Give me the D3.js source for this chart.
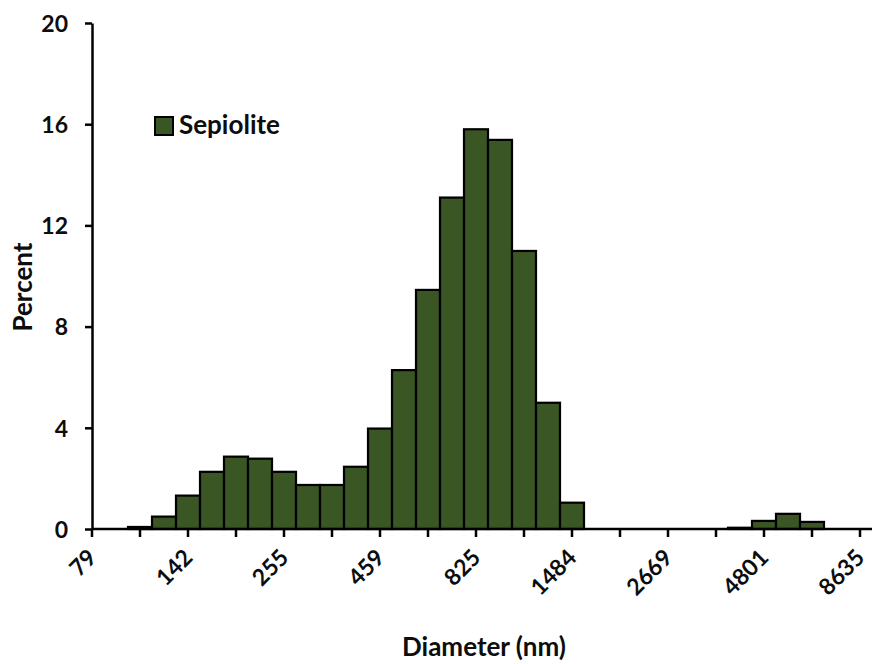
<!DOCTYPE html>
<html>
<head>
<meta charset="utf-8">
<script src="https://cdn.jsdelivr.net/npm/d3@7.9.0/dist/d3.min.js"></script>
<style>
  body { margin: 0; background: #fff; }
  svg text { font-family: Lato, 'Open Sans', sans-serif; font-weight: bold; fill: #0d0d0d; }
</style>
</head>
<body>
<div id="chart"></div>
<script>
// diameter bins (nm), one per bar
const diameters = ['79', '92', '106', '123', '142', '165', '191', '221', '255', '296', '342', '397',
  '459', '532', '616', '713', '825', '956', '1107', '1282', '1484', '1719', '1990', '2305',
  '2669', '3091', '3579', '4145', '4801', '5560', '6439', '7457', '8635'];
// share of particles in each bin (%)
const percent = [0, 0, 0.08, 0.49, 1.32, 2.26, 2.86, 2.78, 2.26, 1.74, 1.74, 2.46,
  3.97, 6.28, 9.45, 13.1, 15.8, 15.38, 10.99, 4.99, 1.04, 0, 0, 0,
  0, 0, 0, 0.05, 0.32, 0.6, 0.28, 0, 0];
const xLabels = ['79', '142', '255', '459', '825', '1484', '2669', '4801', '8635'];
const yTicks = [0, 4, 8, 12, 16, 20];
const seriesName = 'Sepiolite';

const width = 874;
const height = 664;
const barColor = '#3b5625';

const svg = d3.select('#chart')
  .append('svg')
  .attr('width', width)
  .attr('height', height);

const x = d3.scaleBand()
  .domain(diameters)
  .range([80, 872])
  .padding(0);

const y = d3.scaleLinear()
  .domain([0, 20])
  .range([529, 23]);

const axisX = x(diameters[0]) + x.bandwidth() / 2;

// bars
svg.append('g')
  .selectAll('rect')
  .data(diameters.map((d, i) => ({ d, v: percent[i] })).filter((b) => b.v > 0))
  .join('rect')
  .attr('x', (b) => x(b.d))
  .attr('y', (b) => y(b.v))
  .attr('width', x.bandwidth())
  .attr('height', (b) => y(0) - y(b.v))
  .attr('fill', barColor)
  .attr('stroke', '#000')
  .attr('stroke-width', 2.2);

// x axis
const xAxis = d3.axisBottom(x)
  .tickValues(diameters.filter((d, i) => i % 2 === 0))
  .tickSize(8)
  .tickFormat((d) => (xLabels.includes(d) ? d : ''));

const gx = svg.append('g')
  .attr('transform', `translate(0, ${y(0)})`)
  .call(xAxis);
gx.select('.domain').remove();
gx.selectAll('.tick line').attr('stroke', '#000').attr('stroke-width', 2.5);
gx.selectAll('.tick text')
  .attr('font-size', 23)
  .attr('text-anchor', 'end')
  .attr('y', 0)
  .attr('dy', 0)
  .attr('transform', 'translate(6, 30) rotate(-45)');

svg.append('line')
  .attr('x1', axisX)
  .attr('x2', 872)
  .attr('y1', y(0))
  .attr('y2', y(0))
  .attr('stroke', '#000')
  .attr('stroke-width', 2.5);

// y axis
const gy = svg.append('g')
  .attr('transform', `translate(${axisX}, 0)`)
  .call(d3.axisLeft(y).tickValues(yTicks).tickSize(7).tickSizeOuter(0).tickPadding(17));
gy.select('.domain').attr('stroke', '#000').attr('stroke-width', 2.5);
gy.selectAll('.tick line').attr('stroke', '#000').attr('stroke-width', 2.5);
gy.selectAll('.tick text').attr('font-size', 23).attr('dy', '0.36em');

// axis titles
svg.append('text')
  .attr('x', 484)
  .attr('y', 656)
  .attr('text-anchor', 'middle')
  .attr('font-size', 26)
  .text('Diameter (nm)');

svg.append('text')
  .attr('transform', 'translate(32, 287) rotate(-90)')
  .attr('text-anchor', 'middle')
  .attr('font-size', 26)
  .text('Percent');

// legend
const legend = svg.append('g').attr('transform', 'translate(155, 117)');
legend.append('rect')
  .attr('width', 18)
  .attr('height', 18)
  .attr('fill', barColor)
  .attr('stroke', '#000')
  .attr('stroke-width', 2);
legend.append('text')
  .attr('x', 24)
  .attr('y', 17)
  .attr('font-size', 26)
  .text(seriesName);
</script>
</body>
</html>
